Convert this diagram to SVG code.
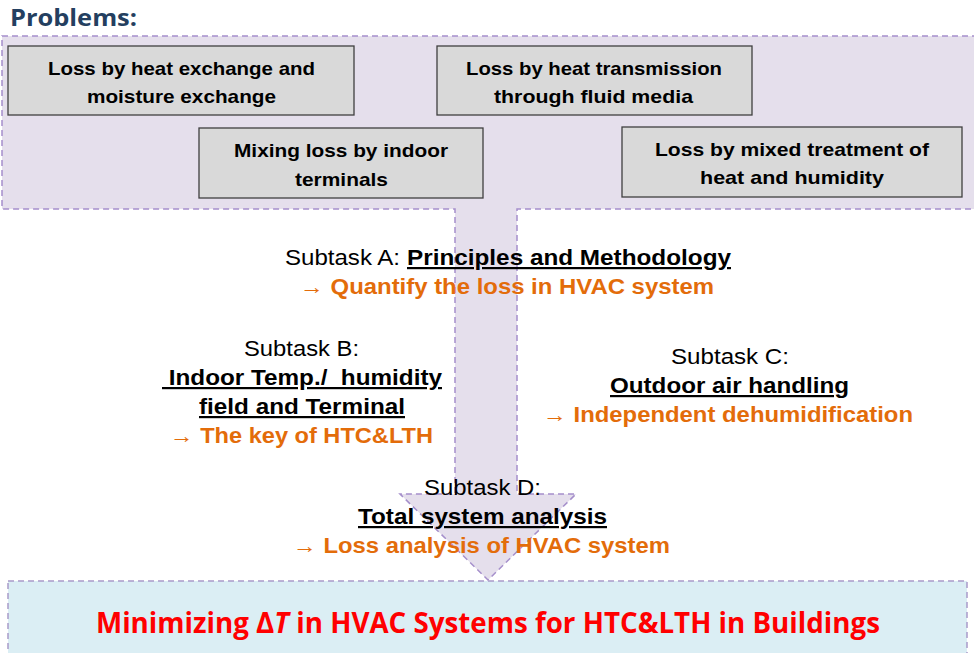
<svg xmlns="http://www.w3.org/2000/svg" width="974" height="653" viewBox="0 0 974 653">
  <style>
    .problem rect { fill: #d9d9d9; stroke: #3f3f3f; stroke-width: 1.3; }
    .problem text { font-family: "Liberation Sans", Arial, sans-serif; font-weight: bold; font-size: 19px; fill: #000; text-anchor: start; }
    .narrow { font-family: "Liberation Sans", Arial, sans-serif; font-size: 22px; }
    .lbl { fill: #000; }
    .head { fill: #000; font-weight: bold; text-decoration: underline; }
    .out { fill: #e36c0a; font-weight: bold; }
    .band { fill: #e5dfec; stroke: #a58fcb; stroke-width: 1.5; stroke-dasharray: 6 4; }
    .goal rect { fill: #dbeef4; stroke: #a99ac9; stroke-width: 1.5; stroke-dasharray: 6 4; }
  </style>

  <!-- heading -->
  <text x="10" y="26" font-family="'Open Sans', 'Liberation Sans', sans-serif" font-weight="bold" font-size="24" fill="#243f60" textLength="127" lengthAdjust="spacingAndGlyphs">Problems:</text>

  <!-- problem band merged with the downward flow arrow -->
  <g id="connectors">
    <path class="band" d="M2,36 H990 V209 H517 V494 H576 L488,580 L400,494 H455 V209 H2 Z"/>
  </g>

  <!-- problem boxes -->
  <g id="p-exchange" class="problem">
    <rect x="8" y="46" width="346" height="69"/>
    <text x="48" y="75" textLength="267" lengthAdjust="spacingAndGlyphs">Loss by heat exchange and</text>
    <text x="87" y="103" textLength="189" lengthAdjust="spacingAndGlyphs">moisture exchange</text>
  </g>
  <g id="p-transmission" class="problem">
    <rect x="437" y="46" width="315" height="69"/>
    <text x="466" y="75" textLength="256" lengthAdjust="spacingAndGlyphs">Loss by heat transmission</text>
    <text x="494" y="103" textLength="199" lengthAdjust="spacingAndGlyphs">through fluid media</text>
  </g>
  <g id="p-mixing" class="problem">
    <rect x="199" y="128" width="284" height="70"/>
    <text x="234" y="157" textLength="214" lengthAdjust="spacingAndGlyphs">Mixing loss by indoor</text>
    <text x="295" y="186" textLength="93" lengthAdjust="spacingAndGlyphs">terminals</text>
  </g>
  <g id="p-mixed-treatment" class="problem">
    <rect x="622" y="127" width="340" height="70"/>
    <text x="655" y="156" textLength="274" lengthAdjust="spacingAndGlyphs">Loss by mixed treatment of</text>
    <text x="700" y="184" textLength="184" lengthAdjust="spacingAndGlyphs">heat and humidity</text>
  </g>

  <!-- subtasks -->
  <g id="subtask-a" class="narrow">
    <text class="lbl" x="285" y="265" textLength="115" lengthAdjust="spacingAndGlyphs">Subtask A:</text>
    <text class="head" x="407" y="265" textLength="324" lengthAdjust="spacingAndGlyphs">Principles and Methodology</text>
    <text class="out" x="300" y="294" textLength="414" lengthAdjust="spacingAndGlyphs">→ Quantify the loss in HVAC system</text>
  </g>
  <g id="subtask-b" class="narrow">
    <text class="lbl" x="244" y="356" textLength="115" lengthAdjust="spacingAndGlyphs">Subtask B:</text>
    <text class="head" x="162" y="385" textLength="280" lengthAdjust="spacingAndGlyphs" xml:space="preserve"> Indoor Temp./  humidity</text>
    <text class="head" x="199" y="414" textLength="206" lengthAdjust="spacingAndGlyphs">field and Terminal</text>
    <text class="out" x="170" y="443" textLength="263" lengthAdjust="spacingAndGlyphs">→ The key of HTC&amp;LTH</text>
  </g>
  <g id="subtask-c" class="narrow">
    <text class="lbl" x="671" y="364" textLength="118" lengthAdjust="spacingAndGlyphs">Subtask C:</text>
    <text class="head" x="610" y="393" textLength="239" lengthAdjust="spacingAndGlyphs">Outdoor air handling</text>
    <text class="out" x="543" y="422" textLength="370" lengthAdjust="spacingAndGlyphs">→ Independent dehumidification</text>
  </g>
  <g id="subtask-d" class="narrow">
    <text class="lbl" x="424" y="495" textLength="117" lengthAdjust="spacingAndGlyphs">Subtask D:</text>
    <text class="head" x="358" y="524" textLength="249" lengthAdjust="spacingAndGlyphs">Total system analysis</text>
    <text class="out" x="293" y="553" textLength="377" lengthAdjust="spacingAndGlyphs">→ Loss analysis of HVAC system</text>
  </g>

  <!-- goal -->
  <g id="goal" class="goal">
    <rect x="8" y="581" width="959" height="90"/>
    <text x="96" y="633" font-family="'Open Sans', 'Liberation Sans', sans-serif" font-weight="bold" font-size="28" fill="#ff0000" textLength="784" lengthAdjust="spacingAndGlyphs">Minimizing Δ<tspan font-style="italic">T</tspan> in HVAC Systems for HTC&amp;LTH in Buildings</text>
  </g>
</svg>
